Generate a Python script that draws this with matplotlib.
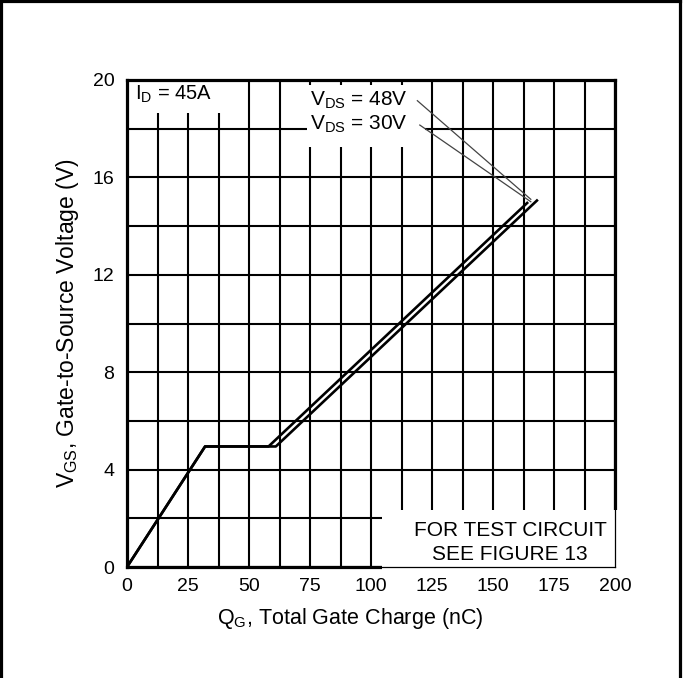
import numpy as np
import matplotlib.pyplot as plt
from matplotlib.patches import Rectangle
from matplotlib.lines import Line2D

plt.rcParams['font.family'] = ['Liberation Sans', 'DejaVu Sans']
plt.rcParams['mathtext.fontset'] = 'custom'
plt.rcParams['mathtext.rm'] = 'Liberation Sans'
plt.rcParams['mathtext.it'] = 'Liberation Sans'

# gate charge curves
q_48v = [0, 32, 61, 168]
v_48v = [0, 4.95, 4.95, 15.05]
q_30v = [0, 32, 58, 164]
v_30v = [0, 4.95, 4.95, 14.95]

x_ticks = [0, 25, 50, 75, 100, 125, 150, 175, 200]
y_ticks = [0, 4, 8, 12, 16, 20]

fig = plt.figure(figsize=(6.83, 6.78), dpi=100)
ax = fig.add_axes([127/683, 1-567/678, 488/683, 487/678])

ax.set_xlim(0, 200)
ax.set_ylim(0, 20)
ax.set_xticks(x_ticks)
ax.set_yticks(y_ticks)
ax.set_xticks(np.arange(0, 201, 12.5), minor=True)
ax.set_yticks(np.arange(0, 21, 2), minor=True)
ax.tick_params(which='both', length=0, labelsize=14)
ax.tick_params(axis='x', pad=8)
ax.tick_params(axis='y', pad=9)
ax.set_axisbelow(True)
ax.grid(True, which='both', color='black', lw=1.5)
for s in ax.spines.values():
    s.set_linewidth(2.3)

# white gaps in the grid behind the labels
ax.add_patch(Rectangle((0.5, 18.65), 45, 1.3, fc='white', ec='none', zorder=1))
ax.add_patch(Rectangle((73.8, 17.25), 48.2, 2.55, fc='white', ec='none', zorder=1))

ax.plot(q_48v, v_48v, color='black', lw=1.9, zorder=2)
ax.plot(q_30v, v_30v, color='black', lw=1.9, zorder=2)

ax.text(3.3, 19.2, r'I$_{\mathrm{D}}$ = 45A', fontsize=14.5, va='baseline')
ax.text(75, 18.95, r'V$_{\mathrm{DS}}$ = 48V', fontsize=15, va='baseline')
ax.text(75, 17.95, r'V$_{\mathrm{DS}}$ = 30V', fontsize=15, va='baseline')
ax.plot([119, 165.5], [19.15, 15.1], color='#444444', lw=0.9, zorder=2)
ax.plot([120, 165.5], [18.15, 15.0], color='#444444', lw=0.9, zorder=2)

# test circuit note box sits on top of the frame
ax.add_patch(Rectangle((104.4, -0.2), 97, 2.55, fc='white', ec='none',
                       zorder=3, clip_on=False))
ax.plot([104.4, 200], [0, 0], color='black', lw=0.9, zorder=3.5, clip_on=False)
ax.plot([200, 200], [0, 2.35], color='black', lw=0.9, zorder=3.5, clip_on=False)
ax.text(157, 1.29, 'FOR TEST CIRCUIT', fontsize=15, ha='center', va='baseline', zorder=4)
ax.text(157, 0.29, 'SEE FIGURE 13', fontsize=15, ha='center', va='baseline', zorder=4)

ax.set_xlabel(r'Q$_{\mathrm{G}}$, Total Gate Charge (nC)', fontsize=15.5, va='center')
ax.xaxis.set_label_coords(0.457, -0.105)
ax.set_ylabel(r'V$_{\mathrm{GS}}$, Gate-to-Source Voltage (V)', fontsize=16.5, va='center')
ax.yaxis.set_label_coords(-0.121, 0.5)

# outer frame of the figure (left, top, right)
fig.add_artist(Line2D([0.002, 0.002], [0, 0.998], color='black', lw=2.3))
fig.add_artist(Line2D([0.002, 0.995], [0.998, 0.998], color='black', lw=2.3))
fig.add_artist(Line2D([0.995, 0.995], [0, 0.998], color='black', lw=2.3))

fig.savefig('out.png', dpi=100)
